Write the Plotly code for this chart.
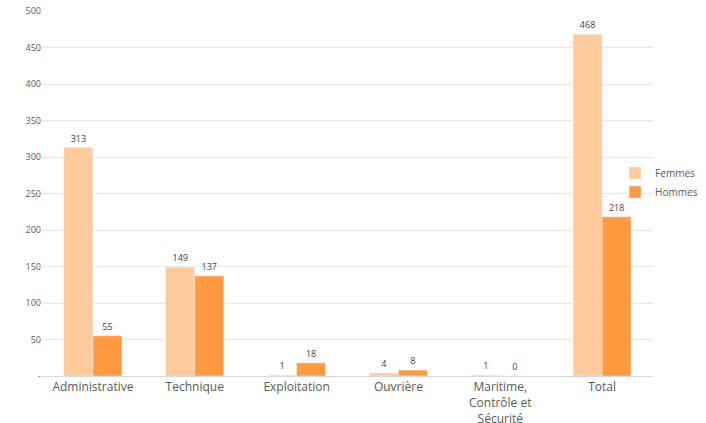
import plotly.graph_objects as go

categories = ["Administrative", "Technique", "Exploitation", "Ouvrière",
              "Maritime,<br>Contrôle et<br>Sécurité", "Total"]
femmes = [313, 149, 1, 4, 1, 468]
hommes = [55, 137, 18, 8, 0, 218]
y_ticks = [0, 50, 100, 150, 200, 250, 300, 350, 400, 450, 500]
y_ticktext = ["-", "50", "100", "150", "200", "250", "300", "350", "400", "450", "500"]

_FONT = "'Open Sans', Lato, sans-serif"
_GRAY = "#595959"

fig = go.Figure()
fig.add_trace(go.Bar(
    x=categories, y=femmes, name="Femmes",
    marker=dict(color="#ffca9c"),
    text=femmes, textposition="outside", cliponaxis=False,
    textfont=dict(size=9, color="#404040"),
))
fig.add_trace(go.Bar(
    x=categories, y=hommes, name="Hommes",
    marker=dict(color="#ff9a40"),
    text=hommes, textposition="outside", cliponaxis=False,
    textfont=dict(size=9, color="#404040"),
))

fig.update_layout(
    width=706, height=423,
    font=dict(family=_FONT, color=_GRAY),
    plot_bgcolor="white", paper_bgcolor="white",
    margin=dict(l=42, r=53, t=11, b=47, autoexpand=False),
    barmode="group", bargap=0.43, bargroupgap=0,
    legend=dict(
        x=0.938, xanchor="left", y=0.53, yanchor="middle",
        font=dict(size=10, color=_GRAY),
        itemwidth=30, tracegroupgap=0, bgcolor="rgba(0,0,0,0)",
    ),
    uniformtext=dict(minsize=9, mode="show"),
)
fig.update_xaxes(
    showgrid=False, linecolor="#d9d9d9", linewidth=1, ticks="",
    tickfont=dict(size=12, color=_GRAY), automargin=False,
)
fig.update_yaxes(
    range=[0, 500], tickvals=y_ticks, ticktext=y_ticktext,
    showgrid=True, gridcolor="#e6e6e6", zeroline=False, showline=False,
    tickfont=dict(size=9, color=_GRAY), automargin=False,
)

# drop the default 8px page margin so the figure sits at the window corner
fig.write_html("out.html", config={"displayModeBar": False},
               post_script="document.body.style.margin='0';")
